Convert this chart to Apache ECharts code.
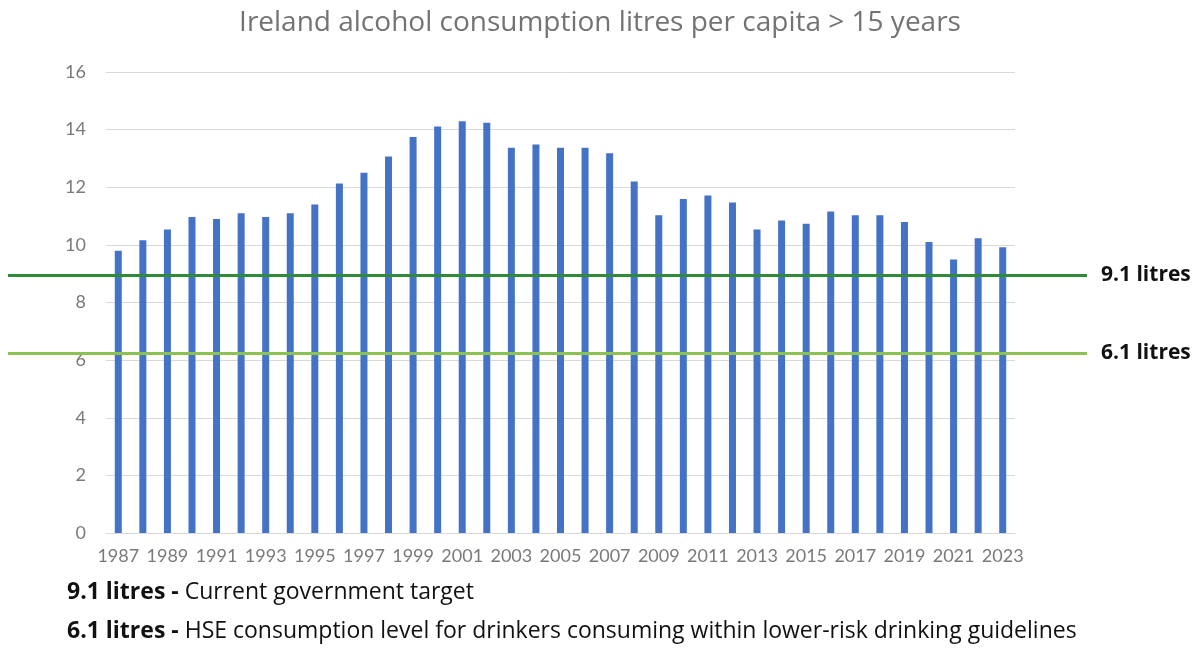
<!DOCTYPE html>
<html>
<head>
<meta charset="utf-8">
<script src="https://cdn.jsdelivr.net/npm/echarts@6/dist/echarts.min.js"></script>
<style>
html,body{margin:0;padding:0;background:#fff;}
#chart{width:1200px;height:648px;}
</style>
</head>
<body>
<div id="chart"></div>
<script>
const years = ['1987','1988','1989','1990','1991','1992','1993','1994','1995','1996','1997','1998','1999','2000','2001','2002','2003','2004','2005','2006','2007','2008','2009','2010','2011','2012','2013','2014','2015','2016','2017','2018','2019','2020','2021','2022','2023'];
const litres = [9.8,10.16,10.53,10.97,10.9,11.1,10.97,11.1,11.4,12.13,12.5,13.07,13.74,14.11,14.29,14.24,13.37,13.48,13.37,13.37,13.18,12.2,11.03,11.59,11.71,11.47,10.53,10.85,10.73,11.16,11.03,11.03,10.79,10.1,9.49,10.23,9.92];
const yTicks = [0,2,4,6,8,10,12,14,16];
const refLinePos = [8.94, 6.25];
const refLineLabels = ['9.1 litres', '6.1 litres'];
const refLineColors = ['#2f8a3a', '#8cc24f'];
const titleText = 'Ireland alcohol consumption litres per capita > 15 years';
const notes = [
  ['9.1 litres -', 'Current government target'],
  ['6.1 litres -', 'HSE consumption level for drinkers consuming within lower-risk drinking guidelines']
];

const chart = echarts.init(document.getElementById('chart'));
const gridTop = 72, gridBottom = 115;
const option = {
  animation: false,
  backgroundColor: '#fff',
  title: [
    {
      text: titleText,
      left: 'center',
      top: 4,
      textStyle: {fontFamily: 'Open Sans', fontSize: 28, fontWeight: 'normal', color: '#737373'}
    },
    {
      text: '{b|' + notes[0][0] + '} ' + notes[0][1],
      left: 62, top: 576,
      textStyle: {fontFamily: 'Open Sans', fontSize: 23, fontWeight: 'normal', color: '#111',
        rich: {b: {fontFamily: 'Open Sans', fontSize: 23, fontWeight: 'bold', color: '#111'}}}
    },
    {
      text: '{b|' + notes[1][0] + '} ' + notes[1][1],
      left: 62, top: 615,
      textStyle: {fontFamily: 'Open Sans', fontSize: 23, fontWeight: 'normal', color: '#111',
        rich: {b: {fontFamily: 'Open Sans', fontSize: 23, fontWeight: 'bold', color: '#111'}}}
    }
  ],
  grid: [
    {left: 106, right: 185, top: gridTop, bottom: gridBottom},
    {left: 8, right: 113, top: gridTop, bottom: gridBottom}
  ],
  xAxis: [
    {
      type: 'category', data: years, gridIndex: 0,
      axisLine: {lineStyle: {color: '#d9d9d9', width: 1}},
      axisTick: {show: false},
      axisLabel: {interval: 1, color: '#7a7a7a', fontFamily: 'Lato', fontSize: 18, margin: 14}
    },
    {type: 'value', gridIndex: 1, min: 0, max: 1, show: false}
  ],
  yAxis: [
    {
      type: 'value', gridIndex: 0, min: yTicks[0], max: yTicks[yTicks.length-1], interval: 2,
      axisLine: {show: false}, axisTick: {show: false},
      splitLine: {lineStyle: {color: '#d9d9d9', width: 1}},
      axisLabel: {color: '#7a7a7a', fontFamily: 'Lato', fontSize: 18, margin: 20}
    },
    {type: 'value', gridIndex: 1, min: yTicks[0], max: yTicks[yTicks.length-1], show: false}
  ],
  series: [
    {
      type: 'bar', xAxisIndex: 0, yAxisIndex: 0, data: litres,
      barWidth: 7,
      itemStyle: {color: '#4472c4'}
    },
    {
      type: 'line', xAxisIndex: 1, yAxisIndex: 1, data: [],
      z: 10,
      markLine: {
        silent: true, symbol: 'none', z: 10,
        data: refLinePos.map((v, i) => ({
          yAxis: v,
          lineStyle: {color: refLineColors[i], width: 3, type: 'solid'},
          label: {show: true, position: 'end', distance: 14, formatter: refLineLabels[i],
            fontFamily: 'Open Sans', fontWeight: 'bold', fontSize: 21, color: '#111'}
        }))
      }
    }
  ]
};
chart.setOption(option);
</script>
</body>
</html>
